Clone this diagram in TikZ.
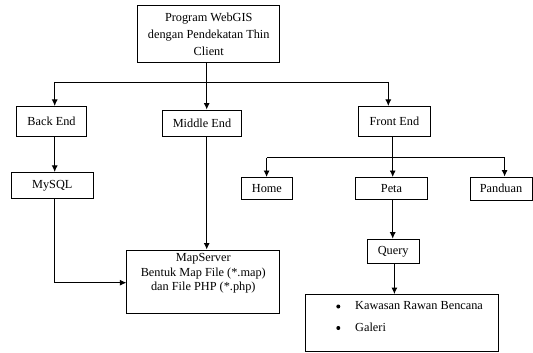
\documentclass[tikz,border=0pt]{standalone}
\usepackage{fontspec}
\setmainfont{Liberation Serif}
\usetikzlibrary{arrows.meta}
\begin{document}
\begin{tikzpicture}[x=1pt,y=-1pt,
  box/.style={draw,line width=0.9pt,inner sep=0pt,align=center,font=\fontsize{12.3}{17}\selectfont},
  conn/.style={line width=0.9pt},
  arr/.style={line width=0.9pt,-{Latex[length=6.5pt,width=6pt]}}]
\useasboundingbox (0,0) rectangle (533,353);
\node[box,minimum width=142pt,minimum height=57pt] (top) at (208.75,34) {Program WebGIS\\dengan Pendekatan Thin\\Client};
\node[box,minimum width=70.4pt,minimum height=29.6pt] (back) at (51.5,121.2) {Back End};
\node[box,minimum width=79pt,minimum height=26pt] (mid) at (202,123) {Middle End};
\node[box,minimum width=72pt,minimum height=29.6pt] (front) at (394.4,121.2) {Front End};
\node[box,minimum width=82.3pt,minimum height=26pt] (mysql) at (52.3,185.4) {MySQL};
\node[box,minimum width=51pt,minimum height=21.5pt] (home) at (266.9,188.2) {Home};
\node[box,minimum width=71.8pt,minimum height=21.5pt] (peta) at (391.5,188.2) {Peta};
\node[box,minimum width=62pt,minimum height=23pt] (panduan) at (501,188.5) {Panduan};
\node[box,minimum width=153pt,minimum height=63.3pt,font=\fontsize{12.3}{14.5}\selectfont] (map) at (203.3,281.6) {MapServer\\Bentuk Map File (*.map)\\dan File PHP (*.php)\\[4pt]};
\node[box,minimum width=52pt,minimum height=24.5pt] (query) at (393.2,251.4) {Query};
\node[box,minimum width=193pt,minimum height=57pt] (list) at (402,323) {};
\node[font=\fontsize{12.3}{17}\selectfont,anchor=west,inner sep=0pt] (k1) at (355,306) {Kawasan Rawan Bencana};
\node[font=\fontsize{12.3}{17}\selectfont,anchor=west,inner sep=0pt] (k2) at (355,327.5) {Galeri};
\fill (338.3,306.5) circle (2pt);
\fill (338.3,328) circle (2pt);
% top level
\coordinate (j0) at (206.7,82);
\coordinate (jl) at (54.7,82);
\coordinate (jr) at (388.3,82);
\draw[conn] (top.south -| j0) -- (j0);
\draw[conn] (jl) -- (jr);
\draw[arr] (jl) -- (jl |- back.north);
\draw[arr] (j0) -- (j0 |- mid.north);
\draw[arr] (jr) -- (jr |- front.north);
% back end
\draw[arr] (jl |- back.south) -- (jl |- mysql.north);
\coordinate (mc) at (54.7,282.7);
\draw[arr] (jl |- mysql.south) -- (mc) -- (mc -| map.west);
% middle
\draw[arr] (j0 |- mid.south) -- (j0 |- map.north);
% front end
\coordinate (fx) at (392.7,157.8);
\coordinate (fl) at (266.6,157.8);
\coordinate (fr) at (504.6,157.8);
\draw[conn] (fl) -- (fr);
\draw[arr] (fx |- front.south) -- (fx |- peta.north);
\draw[arr] (fl) -- (fl |- home.north);
\draw[arr] (fr) -- (fr |- panduan.north);
\draw[arr] (fx |- peta.south) -- (fx |- query.north);
\coordinate (qx) at (394.4,0);
\draw[arr] (qx |- query.south) -- (qx |- list.north);
\end{tikzpicture}
\end{document}
